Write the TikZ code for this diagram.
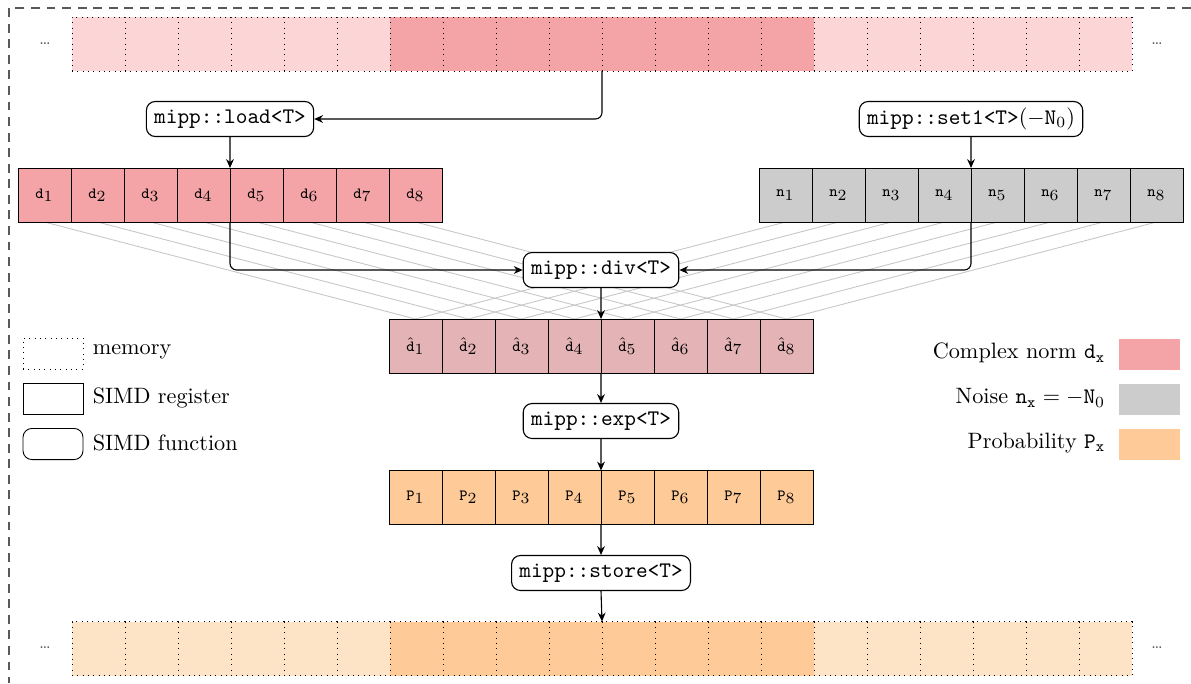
\documentclass[tikz,border=0pt]{standalone}
\usetikzlibrary{arrows.meta,backgrounds}
\definecolor{dcol}{HTML}{F4A3A6}
\definecolor{memlight}{HTML}{FCD6D7}
\definecolor{hatcol}{HTML}{E3B3B5}
\definecolor{pcol}{HTML}{FECB98}
\definecolor{plight}{HTML}{FDE4C6}
\definecolor{ncol}{HTML}{CCCCCC}
\begin{document}
\begin{tikzpicture}[x=0.45pt,y=-0.45pt,
  cell/.style={draw, line width=0.4pt, minimum width=23.85pt, minimum height=24.3pt, inner sep=0pt, outer sep=0pt},
  memcell/.style={cell, dotted},
  func/.style={draw, line width=0.5pt, rounded corners=4pt, fill=white, font=\ttfamily, inner xsep=3.5pt, inner ysep=0pt, minimum height=15.75pt},
  arr/.style={-{Stealth[length=4pt,width=3.5pt]}, line width=0.5pt, rounded corners=3pt},
  legbox/.style={line width=0.4pt, minimum width=27pt, minimum height=14pt, inner sep=0pt},
  swatch/.style={minimum width=27.45pt, minimum height=14pt, inner sep=0pt}]
\useasboundingbox (0,0) rectangle (1191,683);
\draw[black!65, line width=0.5pt, dash pattern=on 4pt off 3pt] (1191,8) -- (9,8) -- (9,683);

% memory rows
\foreach \i in {0,...,19}{
  \ifnum\i<6 \def\cc{memlight}\def\bc{plight}\else\ifnum\i>13 \def\cc{memlight}\def\bc{plight}\else\def\cc{dcol}\def\bc{pcol}\fi\fi
  \node[memcell, fill=\cc] (m\i) at ({98.5+53*\i},44) {};
  \node[memcell, fill=\bc] (b\i) at ({98.5+53*\i},648.5) {};
}
\node[text=black!70] (dotsTL) at (45,44) {\scriptsize\dots};
\node[text=black!70] (dotsTR) at (1157,44) {\scriptsize\dots};
\node[text=black!70] (dotsBL) at (45,648) {\scriptsize\dots};
\node[text=black!70] (dotsBR) at (1157,648) {\scriptsize\dots};

% registers
\foreach \i in {1,...,8}{
  \node[cell, fill=dcol] (d\i) at ({-8.5+53*\i},195) {{\scriptsize$\mathtt{d}$}$_{\i}$};
  \node[cell, fill=ncol] (n\i) at ({732.5+53*\i},195) {{\scriptsize$\mathtt{n}$}$_{\i}$};
  \node[cell, fill=hatcol] (h\i) at ({362.5+53*\i},346) {{\scriptsize$\hat{\mathtt{d}}$}$_{\i}$};
  \node[cell, fill=pcol] (p\i) at ({362.5+53*\i},497.5) {{\scriptsize$\mathtt{P}$}$_{\i}$};
}

% functions
\node[func] (load) at (230,119) {mipp::load<T>};
\node[func] (set1) at (971,119) {mipp::set1<T>\rmfamily$(-\mathtt{N}_0)$};
\node[func] (div) at (601,270) {mipp::div<T>};
\node[func] (exp) at (601,421) {mipp::exp<T>};
\node[func] (store) at (601,573) {mipp::store<T>};

% gray shuffle lines
\begin{scope}[on background layer]
\foreach \i in {1,...,8}{
  \draw[black!22, line width=0.4pt] (d\i.south) -- (h\i.north);
  \draw[black!22, line width=0.4pt] (n\i.south) -- (h\i.north);
}
\end{scope}

% connectors
\draw[arr] (m9.south east) |- (load.east);
\draw[arr] (load.south) -- (d4.north east);
\draw[arr] (set1.south) -- (n4.north east);
\draw[arr] (d4.south east) |- (div.west);
\draw[arr] (n4.south east) |- (div.east);
\draw[arr] (div.south) -- (h4.north east);
\draw[arr] (h4.south east) -- (exp.north);
\draw[arr] (exp.south) -- (p4.north east);
\draw[arr] (p4.south east) -- (store.north);
\draw[arr] (store.south) -- (b9.north east);

% legend left
\node[legbox, draw, dotted] (lmem) at (53,353.5) {};
\node[anchor=west] (tmem) at (85,352) {memory};
\node[legbox, draw] (lreg) at (53,399) {};
\node[anchor=west] (treg) at (85,398) {SIMD register};
\node[legbox, draw, rounded corners=4pt] (lfun) at (53,444) {};
\node[anchor=west] (tfun) at (85,443) {SIMD function};

% legend right
\node[swatch, fill=dcol] (sd) at (1149.5,354.5) {};
\node[anchor=east] (td) at (1113,353) {Complex norm $\mathtt{d}_{\mathtt{x}}$};
\node[swatch, fill=ncol] (sn) at (1149.5,399.5) {};
\node[anchor=east] (tn) at (1113,398) {Noise $\mathtt{n}_{\mathtt{x}}=-\mathtt{N}_0$};
\node[swatch, fill=pcol] (sp) at (1149.5,444.5) {};
\node[anchor=east] (tp) at (1113,443) {Probability $\mathtt{P}_{\mathtt{x}}$};
\end{tikzpicture}
\end{document}
